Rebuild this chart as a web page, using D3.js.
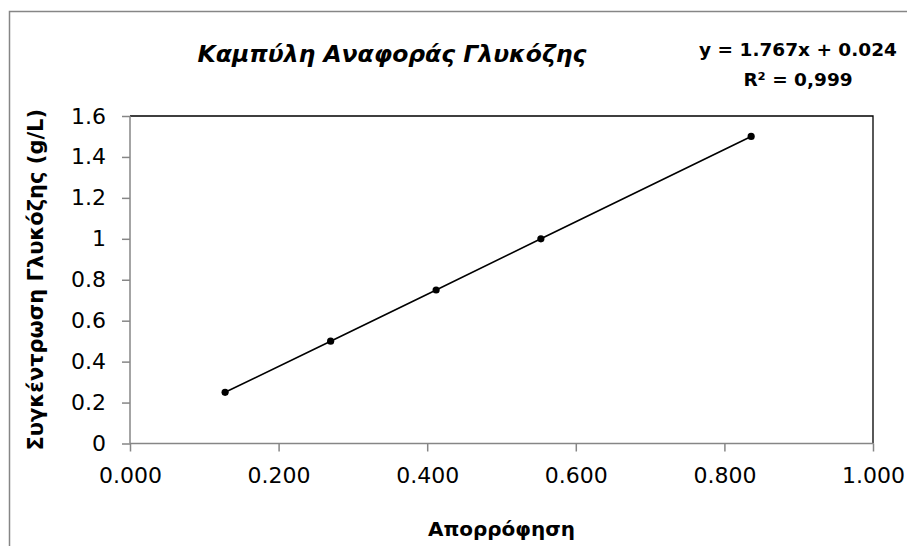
<!DOCTYPE html>
<html>
<head>
<meta charset="utf-8">
<script src="https://cdn.jsdelivr.net/npm/d3@7"></script>
<style>
  body { margin: 0; background: #fff; }
  svg { display: block; font-family: "DejaVu Sans", sans-serif; }
</style>
</head>
<body>
<div id="chart"></div>
<script>
// Δεδομένα καμπύλης αναφοράς (απορρόφηση -> συγκέντρωση)
const aporrofisi = [0.128, 0.270, 0.412, 0.553, 0.836];
const sygkentrosi = [0.25, 0.5, 0.75, 1.0, 1.5];
const xTicks = [0, 0.2, 0.4, 0.6, 0.8, 1.0];
const yTicks = [0, 0.2, 0.4, 0.6, 0.8, 1.0, 1.2, 1.4, 1.6];
const titlos = "Καμπύλη Αναφοράς Γλυκόζης";
const exisosi = ["y = 1.767x + 0.024", "R² = 0,999"];
const xLabel = "Απορρόφηση";
const yLabel = "Συγκέντρωση Γλυκόζης (g/L)";

const width = 907, height = 546;
const plot = { left: 130, right: 873, top: 116, bottom: 443.5 };
const font = '"DejaVu Sans", sans-serif';

const svg = d3.select('#chart').append('svg')
    .attr('width', width)
    .attr('height', height);

// εξωτερικό πλαίσιο (κόβεται δεξιά και κάτω)
svg.append('path')
    .attr('d', `M9.5,${height + 2}V11.5H${width + 2}`)
    .attr('fill', 'none')
    .attr('stroke', '#868686')
    .attr('stroke-width', 1.5);

const x = d3.scaleLinear().domain([0, 1]).range([plot.left, plot.right]);
const y = d3.scaleLinear().domain([0, 1.6]).range([plot.bottom, plot.top]);

// πάνω και δεξιά πλευρά του πλαισίου σχεδίασης
svg.append('path')
    .attr('d', `M${plot.left},${plot.top}H${plot.right}V${plot.bottom}`)
    .attr('fill', 'none')
    .attr('stroke', '#000')
    .attr('stroke-width', 1.3);

const yAxis = svg.append('g')
    .attr('transform', `translate(${plot.left},0)`)
    .call(d3.axisLeft(y).tickValues(yTicks).tickSize(8).tickPadding(16)
        .tickFormat(d => String(+d.toFixed(1))));

const xAxis = svg.append('g')
    .attr('transform', `translate(0,${plot.bottom})`)
    .call(d3.axisBottom(x).tickValues(xTicks).tickSize(8).tickPadding(16)
        .tickFormat(d3.format('.3f')));

[yAxis, xAxis].forEach(ax => {
    ax.selectAll('path, line').attr('stroke', '#868686').attr('stroke-width', 1.5);
    ax.selectAll('text').attr('font-size', 22).attr('fill', '#000')
        .attr('font-family', font);
});
// χωρίς τα ακραία "αυτιά" της γραμμής άξονα
yAxis.select('.domain').attr('d', `M0,${plot.bottom}V${plot.top}`);
xAxis.select('.domain').attr('d', `M${plot.left},0H${plot.right}`);

const points = aporrofisi.map((a, i) => ({ a: a, c: sygkentrosi[i] }));

svg.append('path')
    .datum(points)
    .attr('fill', 'none')
    .attr('stroke', '#000')
    .attr('stroke-width', 1.6)
    .attr('d', d3.line().x(d => x(d.a)).y(d => y(d.c)));

svg.selectAll('.pt')
    .data(points)
    .enter().append('circle')
    .attr('class', 'pt')
    .attr('cx', d => x(d.a))
    .attr('cy', d => y(d.c))
    .attr('r', 3.6)
    .attr('fill', '#000');

// τίτλος
svg.append('text')
    .attr('x', 392).attr('y', 62)
    .attr('text-anchor', 'middle')
    .attr('font-size', 23.5)
    .attr('font-weight', 'bold')
    .attr('font-style', 'italic')
    .text(titlos);

// εξίσωση γραμμής τάσης
svg.selectAll('.eq')
    .data(exisosi)
    .enter().append('text')
    .attr('class', 'eq')
    .attr('x', 798)
    .attr('y', (d, i) => 56 + i * 30)
    .attr('text-anchor', 'middle')
    .attr('font-size', 18.5)
    .attr('font-weight', 'bold')
    .text(d => d);

svg.append('text')
    .attr('x', x(0.5)).attr('y', 536)
    .attr('text-anchor', 'middle')
    .attr('font-size', 20)
    .attr('font-weight', 'bold')
    .text(xLabel);

svg.append('text')
    .attr('transform', `translate(43,${(plot.top + plot.bottom) / 2}) rotate(-90)`)
    .attr('text-anchor', 'middle')
    .attr('font-size', 21)
    .attr('font-weight', 'bold')
    .text(yLabel);
</script>
</body>
</html>
